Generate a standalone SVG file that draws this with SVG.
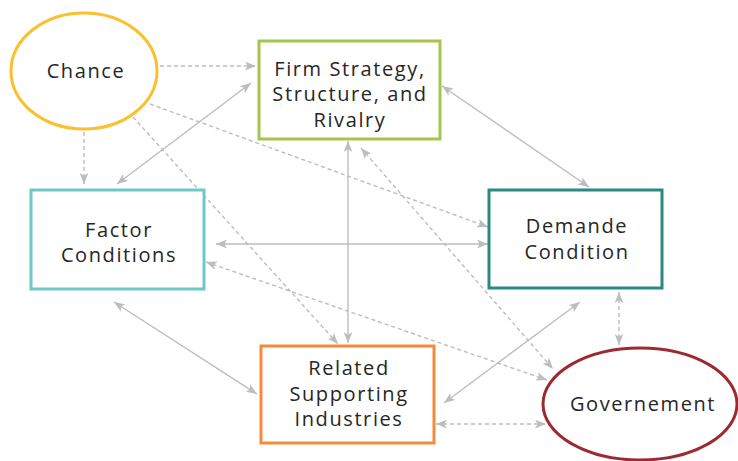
<svg xmlns="http://www.w3.org/2000/svg" width="738" height="461" viewBox="0 0 738 461">
<style>
.lbl{font-family:"Open Sans","DejaVu Sans",sans-serif;font-size:20px;fill:#262626;text-anchor:middle;letter-spacing:1.6px}
.c{stroke:#bdbdc1;stroke-width:1.4;fill:none;marker-start:url(#ah);marker-end:url(#ah)}
.one{marker-start:none}
.d{stroke-dasharray:4 3}
</style>
<defs>
<marker id="ah" viewBox="0 0 10 8" refX="10" refY="4" markerWidth="11" markerHeight="9" markerUnits="userSpaceOnUse" orient="auto-start-reverse">
<path d="M0,0 L10,4 L0,8 L2.5,4 z" fill="#bdbdc1"/>
</marker>
</defs>
<rect width="738" height="461" fill="#fff"/>
<g id="connectors">
<line class="c d one" x1="160" y1="66" x2="256" y2="66"/>
<line class="c d one" x1="84" y1="132" x2="84" y2="184"/>
<line class="c d one" x1="133" y1="117" x2="338" y2="344"/>
<line class="c d one" x1="150" y1="104" x2="488" y2="227"/>
<line class="c" x1="251" y1="83" x2="117" y2="184"/>
<line class="c" x1="442" y1="86" x2="589" y2="187"/>
<line class="c" x1="348" y1="141" x2="348" y2="343"/>
<line class="c" x1="216" y1="244" x2="488" y2="244"/>
<line class="c d" x1="361" y1="148" x2="553" y2="369"/>
<line class="c d" x1="206" y1="262" x2="547" y2="380"/>
<line class="c" x1="114" y1="302" x2="257" y2="394"/>
<line class="c" x1="444" y1="403" x2="580" y2="302"/>
<line class="c d" x1="619" y1="292" x2="619" y2="345"/>
<line class="c d" x1="436" y1="424" x2="546" y2="424"/>
</g>
<g id="chance">
<ellipse cx="84" cy="71" rx="73" ry="58" fill="#fff" stroke="#fbc02d" stroke-width="3"/>
<text class="lbl" x="86" y="78">Chance</text>
</g>
<g id="firm">
<rect x="259" y="41" width="181" height="98" fill="#fff" stroke="#a5c64b" stroke-width="3"/>
<text class="lbl" x="350" y="76">Firm Strategy,</text>
<text class="lbl" x="350" y="101">Structure, and</text>
<text class="lbl" x="350" y="127">Rivalry</text>
</g>
<g id="factor">
<rect x="31" y="190" width="173" height="99" fill="#fff" stroke="#6cc9c4" stroke-width="3"/>
<text class="lbl" x="119" y="237">Factor</text>
<text class="lbl" x="119" y="262">Conditions</text>
</g>
<g id="demande">
<rect x="489" y="190" width="173" height="98" fill="#fff" stroke="#2a8a7f" stroke-width="3"/>
<text class="lbl" x="577" y="233">Demande</text>
<text class="lbl" x="577" y="259">Condition</text>
</g>
<g id="related">
<rect x="261" y="346" width="173" height="97" fill="#fff" stroke="#f58a3a" stroke-width="3"/>
<text class="lbl" x="349" y="375">Related</text>
<text class="lbl" x="349" y="401">Supporting</text>
<text class="lbl" x="349" y="426">Industries</text>
</g>
<g id="governement">
<ellipse cx="640" cy="404" rx="97" ry="56" fill="#fff" stroke="#9b2b31" stroke-width="3"/>
<text class="lbl" x="643" y="411">Governement</text>
</g>
</svg>
